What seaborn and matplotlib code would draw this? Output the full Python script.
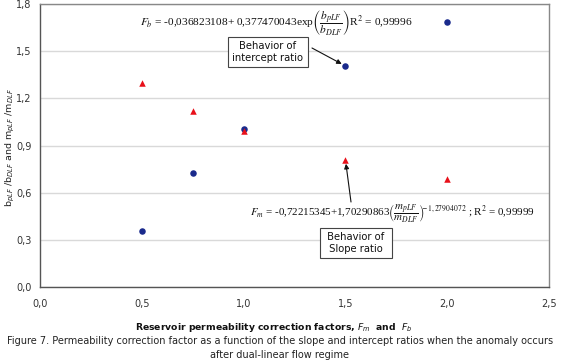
import matplotlib
matplotlib.use("Agg")
import matplotlib.pyplot as plt
import seaborn as sns
import pandas as pd

# data
factor = [0.5, 0.75, 1.0, 1.5, 2.0]
intercept_ratio = [0.356, 0.725, 1.005, 1.406, 1.686]
slope_ratio = [1.30, 1.12, 0.99, 0.81, 0.69]
xticks = [0.0, 0.5, 1.0, 1.5, 2.0, 2.5]
yticks = [0.0, 0.3, 0.6, 0.9, 1.2, 1.5, 1.8]

sns.set_theme(style="white")
plt.rcParams['font.family'] = ['DejaVu Sans']

df_b = pd.DataFrame({"x": factor, "y": intercept_ratio})
df_m = pd.DataFrame({"x": factor, "y": slope_ratio})

W, H = 561, 362
fig = plt.figure(figsize=(W/100, H/100), dpi=100)
ax = fig.add_axes([40/W, 1 - 287/H, (549-40)/W, (287-4)/H])

sns.scatterplot(data=df_b, x="x", y="y", ax=ax, marker="o", color="#1a2a8c",
                s=22, edgecolor="#1a2a8c", linewidth=0, zorder=3)
sns.scatterplot(data=df_m, x="x", y="y", ax=ax, marker="^", color="#e8101a",
                s=22, edgecolor="#e8101a", linewidth=0, zorder=3)

ax.set_xlim(0, 2.5)
ax.set_ylim(0, 1.8)
ax.set_xticks(xticks)
ax.set_yticks(yticks)
ax.set_xticklabels([f"{v:.1f}".replace(".", ",") for v in xticks], fontsize=7)
ax.set_yticklabels([f"{v:.1f}".replace(".", ",") for v in yticks], fontsize=7)
ax.tick_params(axis="both", direction="out", length=3, width=0.8, colors="#555555",
               labelcolor="#333333")
ax.tick_params(axis="x", pad=6)
ax.tick_params(axis="y", pad=3)
ax.yaxis.grid(True, color="#d9d9d9", linewidth=1)
ax.set_axisbelow(True)
for side in ["left", "bottom"]:
    ax.spines[side].set_color("#555555")
    ax.spines[side].set_linewidth(1)
for side in ["top", "right"]:
    ax.spines[side].set_color("#888888")
    ax.spines[side].set_linewidth(1)

ax.set_xlabel("")
ax.set_ylabel("")
fig.text(10/W, 1 - 148/H, r"b$_{pLF}$ /b$_{DLF}$ and m$_{pLF}$ /m$_{DLF}$",
         rotation=90, ha="center", va="center", fontsize=6.8, color="#222222")

fig.text(274/W, 1 - 327/H, r"Reservoir permeability correction factors, $F_m$  and  $F_b$",
         ha="center", va="center", fontsize=6.7, fontweight="bold", color="#111111")
fig.text(280/W, 1 - 341/H,
         "Figure 7. Permeability correction factor as a function of the slope and intercept ratios when the anomaly occurs",
         ha="center", va="center", fontsize=7.0, color="#222222")
fig.text(280/W, 1 - 355/H, "after dual-linear flow regime",
         ha="center", va="center", fontsize=7.0, color="#222222")

# equations
eq_kw = dict(family="Liberation Serif", math_fontfamily="stix", color="#111111")
fig.text(140/W, 1 - 23/H,
         r"$F_b$ = -0,036823108+ 0,377470043exp$\left(\dfrac{b_{pLF}}{b_{DLF}}\right)$R$^2$ = 0,99996",
         ha="left", va="center", fontsize=8.2, **eq_kw)
fig.text(250/W, 1 - 213/H,
         r"$F_m$ = -0,72215345+1,70290863$\left(\dfrac{m_{pLF}}{m_{DLF}}\right)^{\!\!{-1,27904072}}$ ; R$^2$ = 0,99999",
         ha="left", va="center", fontsize=7.9, **eq_kw)

bbox = dict(boxstyle="square,pad=0.45", fc="white", ec="#444444", lw=0.8)
fig.text(268/W, 1 - 52/H, "Behavior of\nintercept ratio", ha="center", va="center",
         fontsize=7.2, bbox=bbox, color="#111111")
ax.annotate("", xy=(1.5, 1.406), xycoords="data",
            xytext=(312/W, 1 - 48/H), textcoords="figure fraction",
            arrowprops=dict(arrowstyle="-|>", color="#111111", lw=0.8,
                            shrinkA=0, shrinkB=3, mutation_scale=7))
fig.text(356/W, 1 - 243/H, " Behavior of \n Slope ratio ", ha="center", va="center",
         fontsize=7.2, bbox=bbox, color="#111111")
ax.annotate("", xy=(1.5, 0.81), xycoords="data",
            xytext=(351/W, 1 - 202/H), textcoords="figure fraction",
            arrowprops=dict(arrowstyle="-|>", color="#111111", lw=0.8,
                            shrinkA=0, shrinkB=3, mutation_scale=7))

fig.savefig("out.png", dpi=100)
